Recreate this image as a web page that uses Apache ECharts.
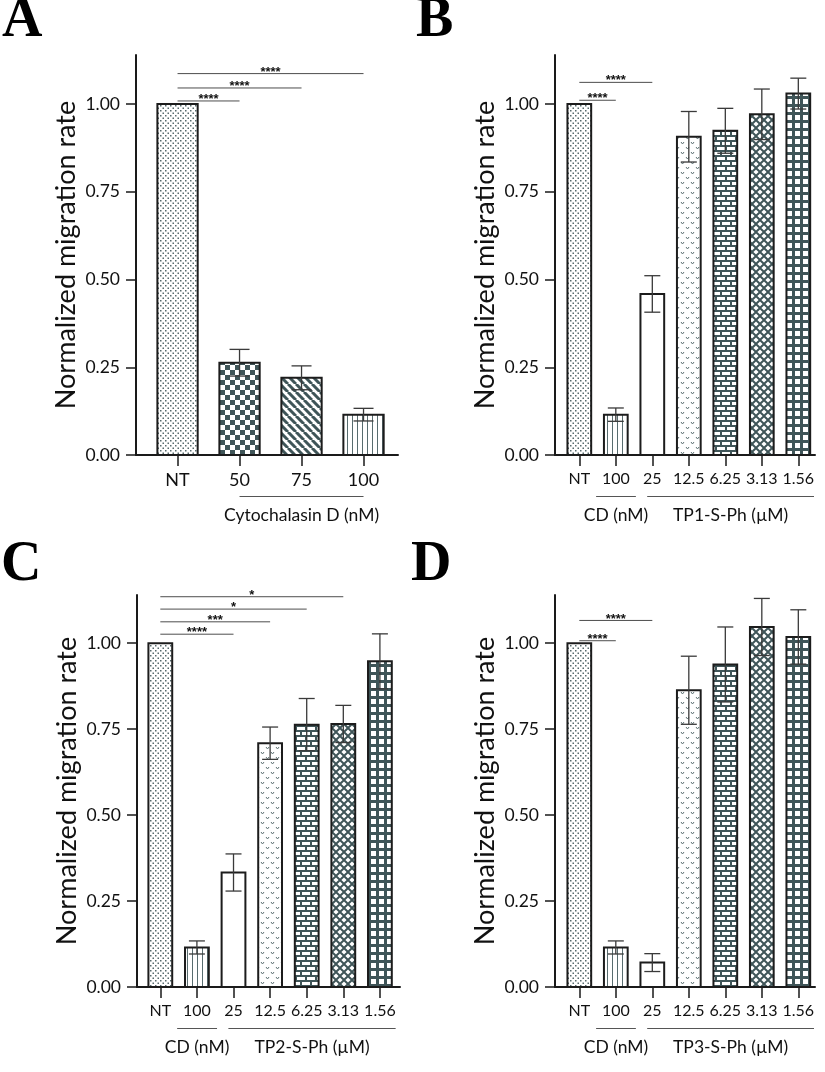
<!DOCTYPE html>
<html>
<head>
<meta charset="utf-8">
<script src="https://cdn.jsdelivr.net/npm/echarts@6/dist/echarts.min.js"></script>
<style>
html, body { margin: 0; padding: 0; background: #fff; }
#chart { width: 825px; height: 1072px; }
</style>
</head>
<body>
<div id="chart"></div>
<script>
// panel A: cytochalasin D alone
const catsA = ['NT', '50', '75', '100'];
const meanA = [1.00, 0.263, 0.220, 0.115];
const errA = [0, 0.038, 0.034, 0.018];
const fillA = ['dots', 'checker', 'diag', 'vlines'];
const sigA = [[0, 1, 1.009, '****'], [0, 2, 1.046, '****'], [0, 3, 1.087, '****']];
const groupA = [[1, 3, 'Cytochalasin D (nM)']];

// panels B-D share the same categories
const catsTP = ['NT', '100', '25', '12.5', '6.25', '3.13', '1.56'];
const fillTP = ['dots', 'vlines', 'none', 'hearts', 'bricks', 'diamonds', 'grid'];

const meanB = [1.00, 0.115, 0.459, 0.907, 0.924, 0.971, 1.030];
const errB = [0, 0.019, 0.052, 0.072, 0.064, 0.072, 0.044];
const sigB = [[0, 1, 1.011, '****'], [0, 2, 1.062, '****']];
const groupB = [[0.46, 1.55, 'CD (nM)'], [1.86, 6.43, 'TP1-S-Ph (\u00b5M)']];

const meanC = [1.00, 0.115, 0.333, 0.709, 0.763, 0.765, 0.947];
const errC = [0, 0.019, 0.054, 0.047, 0.076, 0.054, 0.080];
const sigC = [[0, 2, 1.026, '****'], [0, 3, 1.062, '***'], [0, 4, 1.099, '*'], [0, 5, 1.135, '*']];
const groupC = [[0.46, 1.55, 'CD (nM)'], [1.86, 6.43, 'TP2-S-Ph (\u00b5M)']];

const meanD = [1.00, 0.115, 0.071, 0.863, 0.938, 1.047, 1.018];
const errD = [0, 0.019, 0.026, 0.099, 0.109, 0.083, 0.079];
const sigD = [[0, 1, 1.007, '****'], [0, 2, 1.066, '****']];
const groupD = [[0.46, 1.55, 'CD (nM)'], [1.86, 6.43, 'TP3-S-Ph (\u00b5M)']];

const yTicks = [0, 0.25, 0.5, 0.75, 1.0];
const font = 'Lato, "Open Sans", sans-serif';
const ink = '#3f5558';

function tile(w, h, draw) {
  const c = document.createElement('canvas');
  c.width = w;
  c.height = h;
  const ctx = c.getContext('2d');
  ctx.fillStyle = '#fff';
  ctx.fillRect(0, 0, w, h);
  draw(ctx);
  return { type: 'pattern', image: c, repeat: 'repeat' };
}

function diamond(ctx, cx, cy, r) {
  ctx.beginPath();
  ctx.moveTo(cx, cy - r);
  ctx.lineTo(cx + r, cy);
  ctx.lineTo(cx, cy + r);
  ctx.lineTo(cx - r, cy);
  ctx.closePath();
  ctx.fill();
}

const patterns = {
  none: '#fff',
  dots: tile(5, 5, ctx => {
    ctx.fillStyle = '#566a6d';
    ctx.fillRect(0, 0, 1.5, 1.5);
    ctx.fillRect(2.5, 2.5, 1.5, 1.5);
  }),
  checker: tile(10, 10, ctx => {
    ctx.fillStyle = ink;
    ctx.fillRect(0, 0, 5, 5);
    ctx.fillRect(5, 5, 5, 5);
  }),
  diag: tile(8, 8, ctx => {
    ctx.strokeStyle = ink;
    ctx.lineWidth = 3;
    ctx.beginPath();
    for (const k of [-8, 0, 8]) {
      ctx.moveTo(k, 0);
      ctx.lineTo(k + 8, 8);
    }
    ctx.stroke();
  }),
  vlines: tile(5, 5, ctx => {
    ctx.fillStyle = '#586c6f';
    ctx.fillRect(2, 0, 1, 5);
  }),
  hearts: tile(10, 10, ctx => {
    ctx.strokeStyle = '#607375';
    ctx.lineWidth = 1;
    ctx.beginPath();
    ctx.moveTo(1, 2); ctx.lineTo(2.5, 4); ctx.lineTo(4, 2);
    ctx.moveTo(6, 7); ctx.lineTo(7.5, 9); ctx.lineTo(9, 7);
    ctx.stroke();
  }),
  bricks: tile(10, 10, ctx => {
    ctx.fillStyle = ink;
    ctx.fillRect(0, 0, 10, 2);
    ctx.fillRect(0, 5, 10, 2);
    ctx.fillRect(0, 0, 2, 5);
    ctx.fillRect(5, 5, 2, 5);
  }),
  diamonds: tile(8, 8, ctx => {
    ctx.fillStyle = ink;
    ctx.fillRect(0, 0, 8, 8);
    ctx.fillStyle = '#fff';
    diamond(ctx, 4, 4, 2.6);
    for (const [x, y] of [[0, 0], [8, 0], [0, 8], [8, 8]]) diamond(ctx, x, y, 2.6);
  }),
  grid: tile(8, 8, ctx => {
    ctx.fillStyle = ink;
    ctx.fillRect(0, 0, 8, 3);
    ctx.fillRect(0, 0, 3, 8);
  })
};

const layout = [
  { left: 136, top: 55, width: 262, height: 400, xMin: -0.67, xMax: 3.556, cap: 20, label: 18 },
  { left: 555, top: 55, width: 260, height: 400, xMin: -0.666, xMax: 6.457, cap: 16, label: 16 },
  { left: 137, top: 595, width: 263, height: 392, xMin: -0.637, xMax: 6.549, cap: 16, label: 16 },
  { left: 555, top: 595, width: 260, height: 392, xMin: -0.666, xMax: 6.457, cap: 16, label: 16 }
];

const panels = [
  { cats: catsA, means: meanA, errs: errA, fills: fillA, sigs: sigA, groups: groupA },
  { cats: catsTP, means: meanB, errs: errB, fills: fillTP, sigs: sigB, groups: groupB },
  { cats: catsTP, means: meanC, errs: errC, fills: fillTP, sigs: sigC, groups: groupC },
  { cats: catsTP, means: meanD, errs: errD, fills: fillTP, sigs: sigD, groups: groupD }
];

function axesFor(k) {
  const g = layout[k];
  const p = panels[k];
  const idx = p.cats.map((c, i) => i);
  const xAxis = {
    type: 'value', gridIndex: k, min: g.xMin, max: g.xMax,
    axisLine: { show: true, onZero: false, lineStyle: { color: '#1a1a1a', width: 2 } },
    axisTick: { show: true, customValues: idx, length: 11, lineStyle: { color: '#1a1a1a', width: 1.5 } },
    axisLabel: {
      customValues: idx, formatter: v => p.cats[Math.round(v)],
      fontSize: g.label, fontFamily: font, color: '#111', margin: 16
    },
    splitLine: { show: false }
  };
  const yAxis = {
    type: 'value', gridIndex: k, min: 0, max: 1.14,
    name: 'Normalized migration rate', nameLocation: 'middle', nameGap: 56,
    nameTextStyle: { fontSize: 27, fontFamily: font, color: '#111' },
    axisLine: { show: true, onZero: false, lineStyle: { color: '#1a1a1a', width: 2 } },
    axisTick: { show: true, customValues: yTicks, length: 10, lineStyle: { color: '#1a1a1a', width: 1.5 } },
    axisLabel: {
      customValues: yTicks, formatter: v => v.toFixed(2),
      fontSize: 17.5, fontFamily: font, color: '#111', margin: 16
    },
    splitLine: { show: false }
  };
  return { xAxis, yAxis };
}

function seriesFor(k) {
  const g = layout[k];
  const p = panels[k];
  const bars = {
    type: 'custom', xAxisIndex: k, yAxisIndex: k, clip: false, silent: true, z: 2,
    data: p.means.map((v, i) => [i, v]),
    renderItem(params, api) {
      const i = api.value(0);
      const base = api.coord([i, 0]);
      const top = api.coord([i, api.value(1)]);
      const w = api.size([0.65, 0])[0];
      return {
        type: 'rect',
        shape: { x: base[0] - w / 2, y: top[1], width: w, height: base[1] - top[1] },
        style: { fill: patterns[p.fills[params.dataIndex]], stroke: '#1c1c1c', lineWidth: 2 }
      };
    }
  };
  const errors = {
    type: 'custom', xAxisIndex: k, yAxisIndex: k, clip: false, silent: true, z: 3,
    data: p.means.map((v, i) => [i, v, p.errs[i]]),
    renderItem(params, api) {
      const i = api.value(0), v = api.value(1), e = api.value(2);
      if (!e) return null;
      const hi = api.coord([i, v + e]);
      const lo = api.coord([i, v - e]);
      const x = hi[0], c = g.cap / 2;
      const s = { stroke: '#3a3a3a', lineWidth: 1.3 };
      return {
        type: 'group',
        children: [
          { type: 'line', shape: { x1: x, y1: hi[1], x2: x, y2: lo[1] }, style: s },
          { type: 'line', shape: { x1: x - c, y1: hi[1], x2: x + c, y2: hi[1] }, style: s },
          { type: 'line', shape: { x1: x - c, y1: lo[1], x2: x + c, y2: lo[1] }, style: s }
        ]
      };
    }
  };
  const sig = {
    type: 'custom', xAxisIndex: k, yAxisIndex: k, clip: false, silent: true, z: 3,
    data: p.sigs.map(s => [s[0], s[1], s[2]]),
    renderItem(params, api) {
      const a = api.coord([api.value(0), api.value(2)]);
      const b = api.coord([api.value(1), api.value(2)]);
      return {
        type: 'group',
        children: [
          { type: 'line', shape: { x1: a[0], y1: a[1], x2: b[0], y2: b[1] }, style: { stroke: '#4d4d4d', lineWidth: 1 } },
          {
            type: 'text', x: (a[0] + b[0]) / 2, y: a[1] - 1.5,
            style: {
              text: p.sigs[params.dataIndex][3], fontSize: 13, fontWeight: 'bold',
              fontFamily: 'Liberation Sans, sans-serif', fill: '#111', align: 'center', verticalAlign: 'middle'
            }
          }
        ]
      };
    }
  };
  const groups = {
    type: 'custom', xAxisIndex: k, yAxisIndex: k, clip: false, silent: true, z: 3,
    data: p.groups.map(q => [q[0], q[1]]),
    renderItem(params, api) {
      const a = api.coord([api.value(0), 0]);
      const b = api.coord([api.value(1), 0]);
      const y = a[1] + 41.5;
      return {
        type: 'group',
        children: [
          { type: 'line', shape: { x1: a[0], y1: y, x2: b[0], y2: y }, style: { stroke: '#555', lineWidth: 1 } },
          {
            type: 'text', x: (a[0] + b[0]) / 2, y: a[1] + 60,
            style: {
              text: p.groups[params.dataIndex][2], fontSize: 17.5, fontFamily: font,
              fill: '#111', align: 'center', verticalAlign: 'middle'
            }
          }
        ]
      };
    }
  };
  return [bars, errors, sig, groups];
}

const letters = [
  { text: 'A', left: 2, top: -6 },
  { text: 'B', left: 416, top: -6 },
  { text: 'C', left: 1, top: 538 },
  { text: 'D', left: 411, top: 538 }
];

const chart = echarts.init(document.getElementById('chart'), null, { renderer: 'canvas' });
const axes = layout.map((g, k) => axesFor(k));

chart.setOption({
  animation: false,
  backgroundColor: '#fff',
  title: letters.map(l => ({
    text: l.text, left: l.left, top: l.top, padding: 0,
    textStyle: { fontFamily: 'Liberation Serif, serif', fontWeight: 'bold', fontSize: 56, color: '#000' }
  })),
  grid: layout.map(g => ({
    left: g.left, top: g.top, width: g.width, height: g.height,
    containLabel: false, outerBoundsMode: 'none'
  })),
  xAxis: axes.map(a => a.xAxis),
  yAxis: axes.map(a => a.yAxis),
  series: layout.flatMap((g, k) => seriesFor(k))
});
</script>
</body>
</html>
